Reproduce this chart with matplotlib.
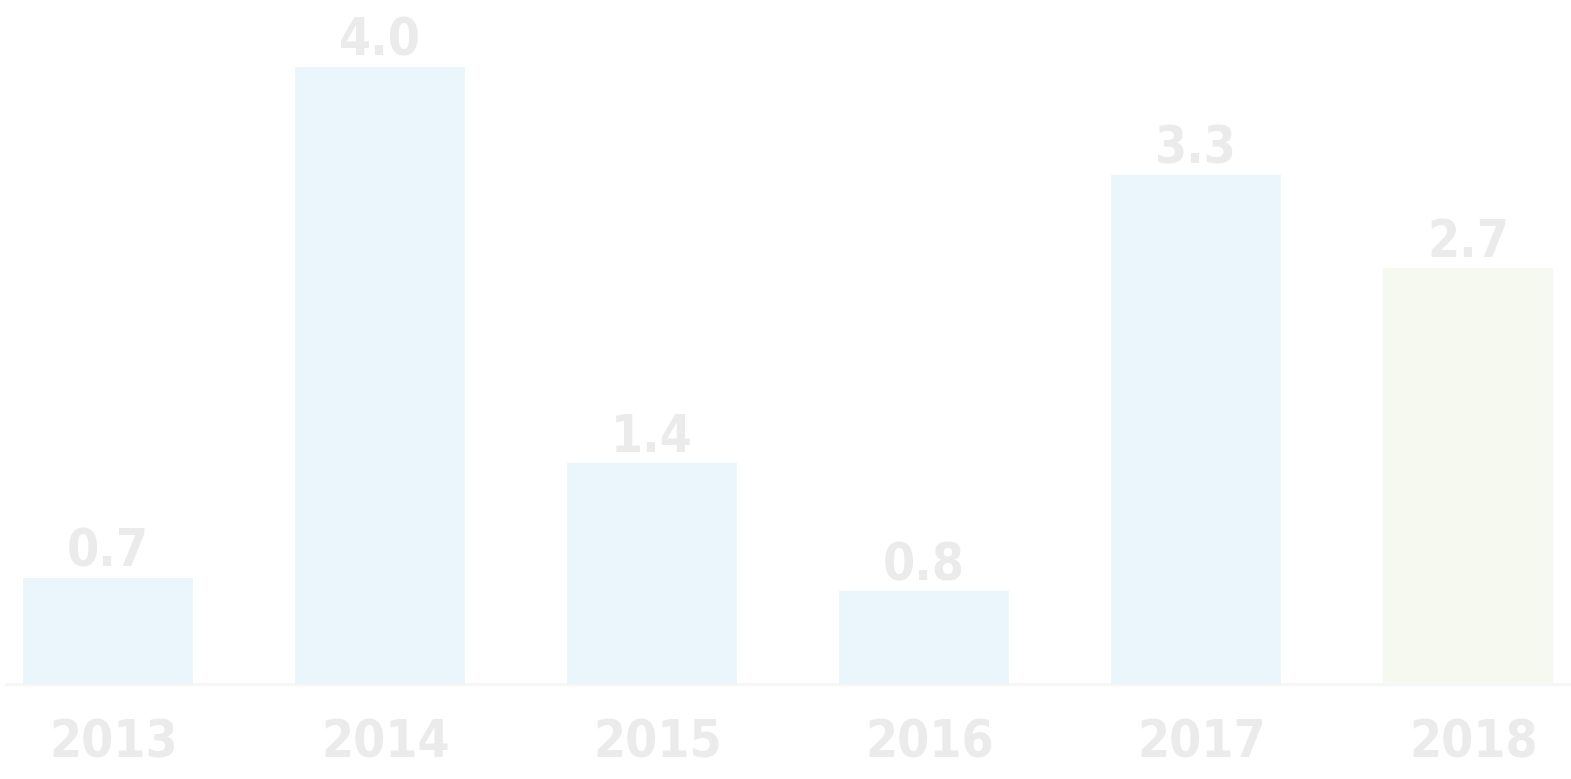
import matplotlib.pyplot as plt

years = ['2013', '2014', '2015', '2016', '2017', '2018']
heights = [0.69, 4.0, 1.43, 0.60, 3.30, 2.70]
labels = ['0.7', '4.0', '1.4', '0.8', '3.3', '2.7']
colors = ['#ebf6fc', '#ebf6fc', '#ebf6fc', '#ebf6fc', '#ebf6fc', '#f6f9f0']

text_color = '#ebebeb'
px = 72 / 100  # points per pixel at dpi 100

fig = plt.figure(figsize=(15.71, 7.79), dpi=100)
ax = fig.add_axes([0, 0, 1, 1])

x = list(range(len(years)))
ax.bar(x, heights, width=0.625, color=colors, zorder=2)

# faint baseline under the bars
ax.axhline(0, xmin=0.004, xmax=1, color='#f7f7f7', linewidth=2.5, zorder=1)

style = dict(fontsize=37, fontweight='bold', family='DejaVu Sans',
             fontstretch='condensed', color=text_color)

for xi, h, lab in zip(x, heights, labels):
    ax.annotate(lab, (xi, h), xytext=(0, 11 * px), textcoords='offset points',
                ha='center', va='baseline', **style)

for xi, yr in zip(x, years):
    ax.annotate(yr, (xi, 0), xytext=(6 * px, -74 * px), textcoords='offset points',
                ha='center', va='baseline', **style)

ax.set_xlim(-108 / 272, (1571 - 108) / 272)
ax.set_ylim(-95 / 154.25, (779 - 95) / 154.25)
ax.axis('off')

plt.savefig('out.png', dpi=100)
